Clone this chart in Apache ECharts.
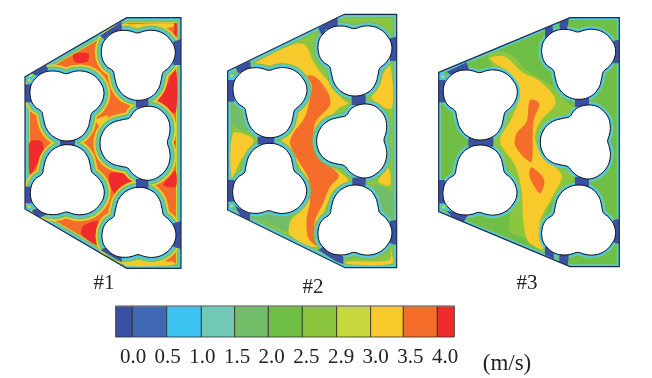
<!DOCTYPE html>
<html>
<head>
<meta charset="utf-8">
<style>html,body{margin:0;padding:0;background:#fff}#chart{width:652px;height:378px}</style>
<script src="https://cdn.jsdelivr.net/npm/echarts@6/dist/echarts.min.js"></script>
</head>
<body>
<div id="chart"></div>
<script>
// levels of the colour scale, low to high
var levelColors = ['#3a50a2', '#3f69b4', '#3cc3f1', '#72c9b6', '#72bd68', '#6fbe45', '#8cc63f', '#c7d93f', '#f7c92b', '#f56d2b', '#ef2b2b'];
var scaleTicks = ['0.0', '0.5', '1.0', '1.5', '2.0', '2.5', '2.9', '3.0', '3.5', '4.0'];
var scaleEdges = [47, 97, 200, 304, 404, 505, 607, 710, 812, 910, 1012, 1063];
var panelNames = ['#1', '#2', '#3'];

// outline of one hole around its centre
var holeOutline = [[-3,-96],[19,-102],[44,-104],[74,-95],[97,-74],[110,-47],[107,-17],[91,8],[74,23],[69,43],[61,70],[39,95],[1,106],[-36,96],[-61,70],[-71,38],[-76,18],[-96,3],[-109,-22],[-109,-57],[-96,-80],[-71,-99],[-41,-104],[-21,-101]];

// plate outlines
var hull1 = [[45,215],[350,38],[513,38],[513,790],[350,790],[45,612]];
var hull2 = [[38,198],[388,28],[545,28],[545,788],[390,788],[38,615]];
var hull3 = [[41,202],[435,38],[583,38],[583,785],[435,785],[41,620]];

// hole centres and how each is turned: 0 up, 1 flipped, 2 sideways
var holes1 = [[171,302,0],[172,525,1],[385,180,0],[376,415,2],[387,653,1]];
var holes2 = [[165,292,0],[164,521,1],[420,167,0],[411,408,2],[420,646,1]];
var holes3 = [[166,299,0],[165,526,1],[461,177,0],[452,411,2],[461,646,1]];

// inset of the wall bands: [distance from wall, level]
var wall1 = [[0,2],[4,3],[8,4],[12,7],[15,9]];
var wall2 = [[0,2],[4,3],[8,4],[12,6]];
var wall3 = [[0,2],[4,3],[7,5]];

// halo round the holes: [line width, level]
var halo1 = [[13,8],[11,7],[9,4],[6,3],[3.5,2]];
var halo2 = [[9,4],[6,3],[3.5,2]];
var halo3 = [[6,3],[3.5,2]];

// contour regions: [level, points]
var regions1 = [
    [10, [[190,148],[235,146],[232,170],[195,172]]],
    [10, [[60,410],[95,410],[100,440],[80,480],[60,510],[57,460]]],
    [10, [[497,190],[498,320],[470,320],[445,290],[470,240]]],
    [10, [[497,498],[497,545],[460,540],[480,515]]],
    [10, [[300,505],[340,505],[370,530],[320,570],[300,540]]],
    [10, [[265,650],[272,722],[215,690],[220,662]]],
    [8, [[258,345],[295,332],[272,365]]],
    [10, [[488,400],[494,400],[496,480],[490,480]]],
    [10, [[494,55],[500,55],[500,95],[494,95]]],
    [8, [[340,60],[490,55],[490,65],[400,75],[345,68]]],
    [8, [[345,770],[490,770],[490,780],[345,782]]]
];
var regions2 = [
    [4, [[105,630],[220,625],[225,680],[170,660]]],
    [4, [[50,300],[80,330],[100,380],[55,360]]],
    [4, [[480,540],[530,560],[535,640],[500,610]]],
    [8, [[110,180],[235,118],[270,120],[295,170],[315,200],[350,240],[385,285],[400,295],[370,310],[340,345],[300,370],[300,460],[340,480],[400,525],[370,545],[340,590],[320,640],[305,725],[225,690],[225,650],[250,620],[265,560],[260,500],[225,440],[200,410],[230,360],[270,270],[275,220],[200,190],[130,185]]],
    [9, [[278,212],[305,218],[340,265],[345,300],[300,355],[300,440],[340,480],[372,512],[345,545],[322,600],[300,645],[298,690],[305,722],[280,700],[275,640],[285,590],[280,520],[245,460],[225,415],[235,385],[270,335],[285,280],[290,240]]],
    [8, [[55,385],[115,405],[75,470],[50,520]]],
    [8, [[525,180],[530,310],[470,280],[500,215]]],
    [8, [[520,490],[525,540],[490,530]]],
    [8, [[395,770],[525,765],[525,730],[532,775],[395,778]]]
];
var regions3 = [
    [6, [[190,150],[245,142],[310,200],[370,235],[420,285],[445,315],[400,345],[350,365],[350,440],[400,480],[445,515],[420,550],[375,600],[355,650],[355,740],[300,700],[255,680],[255,630],[270,560],[240,470],[205,415],[240,350],[270,270],[260,220],[200,180]]],
    [8, [[195,158],[240,155],[290,200],[340,225],[385,270],[390,300],[345,350],[330,400],[350,450],[410,510],[385,570],[345,650],[355,730],[310,710],[295,650],[290,560],[270,480],[225,410],[260,340],[285,265],[250,200],[210,175]]],
    [9, [[315,285],[343,295],[325,350],[320,470],[300,460],[270,420],[275,385],[305,350]]],
    [9, [[320,487],[358,525],[345,565],[320,530],[313,505]]]
];

// stagnant patches at the throats and walls
var throats1 = [
    [[150,405],[195,405],[195,425],[150,425]], [[378,280],[415,280],[415,308],[378,308]], [[378,522],[415,522],[415,550],[378,550]],
    [[65,205],[108,180],[115,195],[80,212]], [[270,92],[335,50],[335,75],[295,90],[285,105]],
    [[490,110],[513,102],[513,180],[490,180]], [[490,655],[513,648],[513,732],[490,725]],
    [[272,735],[290,725],[335,750],[335,772]], [[65,618],[80,610],[112,628],[85,640]],
    [[45,238],[65,238],[65,292],[45,292]], [[45,545],[65,545],[65,595],[45,595]]
];
var throats2 = [
    [[128,395],[178,395],[178,418],[128,418]], [[410,270],[452,270],[452,300],[410,300]], [[412,518],[452,518],[452,542],[412,542]],
    [[62,188],[105,168],[108,188],[70,205]], [[310,70],[368,35],[368,62],[330,75],[322,95]],
    [[525,100],[545,95],[545,168],[525,168]], [[525,648],[545,645],[545,720],[525,715]],
    [[310,735],[330,722],[385,755],[385,777],[365,770]], [[60,603],[105,625],[105,648],[80,640]],
    [[38,225],[58,225],[58,290],[38,290]], [[38,525],[58,525],[58,590],[38,590]]
];
var throats3 = [
    [[130,398],[205,398],[205,425],[130,425]], [[450,278],[492,278],[492,306],[450,306]], [[450,516],[492,516],[492,546],[450,546]],
    [[65,200],[125,172],[133,198],[80,212]], [[360,70],[382,60],[388,100],[360,105]], [[403,47],[432,40],[425,78],[405,75]],
    [[565,108],[583,104],[583,175],[565,175]], [[565,645],[583,642],[583,718],[565,712]],
    [[360,725],[385,730],[387,762],[360,750]], [[403,745],[432,745],[428,783],[403,775]], [[65,618],[133,625],[115,652],[85,640]],
    [[41,225],[60,225],[60,292],[41,292]], [[41,525],[60,525],[60,595],[41,595]]
];

// little stagnation spots at the left corners
var spots1 = [[58,226],[58,605]];
var spots2 = [[50,212],[50,603]];
var spots3 = [[54,215],[56,606]];

var hulls = [hull1, hull2, hull3];
var holeSets = [holes1, holes2, holes3];
var walls = [wall1, wall2, wall3];
var halos = [halo1, halo2, halo3];
var regionSets = [regions1, regions2, regions3];
var throatSets = [throats1, throats2, throats3];
var spotSets = [spots1, spots2, spots3];
var panelLeft = [10, 215, 425];

function insetHull(hull, d) {
    var lines = hull.map(function (p, i) {
        var q = hull[(i + 1) % hull.length];
        var dx = q[0] - p[0], dy = q[1] - p[1], len = Math.sqrt(dx * dx + dy * dy);
        var nx = -dy / len, ny = dx / len;
        return [nx, ny, nx * p[0] + ny * p[1] + d];
    });
    return lines.map(function (a, i) {
        var b = lines[(i + lines.length - 1) % lines.length];
        var det = a[0] * b[1] - a[1] * b[0];
        return [(a[2] * b[1] - a[1] * b[2]) / det, (a[0] * b[2] - a[2] * b[0]) / det];
    });
}

function holePoints(h) {
    return holeOutline.map(function (p) {
        if (h[2] === 1) return [h[0] + p[0], h[1] - p[1]];
        if (h[2] === 2) return [h[0] - p[1], h[1] + p[0]];
        return [h[0] + p[0], h[1] + p[1]];
    });
}

// white ring round the plate, hides halo that runs past the wall
function outsideMask(hull) {
    var ring = [[0,0],[600,0],[600,870],[0,870],[0,0]];
    var back = hull.slice().reverse();
    return ring.concat(back, [back[0]]);
}

// one custom series draws a list of polygons in order
function polygons(panel, shapes) {
    return {
        type: 'custom',
        xAxisIndex: panel,
        yAxisIndex: panel,
        coordinateSystem: 'cartesian2d',
        clip: false,
        silent: true,
        animation: false,
        data: shapes.map(function (s, i) { return [i]; }),
        encode: { x: 0 },
        renderItem: function (params, api) {
            var s = shapes[params.dataIndex];
            return {
                type: 'polygon',
                shape: {
                    points: s.pts.map(function (p) { return api.coord(p); }),
                    smooth: s.smooth || 0
                },
                style: s.style
            };
        }
    };
}

var grids = [], xAxes = [], yAxes = [], series = [], texts = [];

panelLeft.forEach(function (left, k) {
    grids.push({ left: left, top: 5, width: 200, height: 290 });
    xAxes.push({ type: 'value', gridIndex: k, min: 0, max: 600, show: false });
    yAxes.push({ type: 'value', gridIndex: k, min: 0, max: 870, inverse: true, show: false });

    var shapes = [];
    walls[k].forEach(function (w) {
        shapes.push({ pts: insetHull(hulls[k], w[0]), style: { fill: levelColors[w[1]] } });
    });
    regionSets[k].forEach(function (r) {
        shapes.push({ pts: r[1], smooth: 0.3, style: { fill: levelColors[r[0]] } });
    });
    halos[k].forEach(function (h) {
        holeSets[k].forEach(function (c) {
            shapes.push({ pts: holePoints(c), smooth: 0.4, style: { fill: 'none', stroke: levelColors[h[1]], lineWidth: h[0], lineJoin: 'round' } });
        });
    });
    throatSets[k].forEach(function (t) {
        shapes.push({ pts: t, style: { fill: levelColors[0] } });
    });
    holeSets[k].forEach(function (c) {
        shapes.push({ pts: holePoints(c), smooth: 0.4, style: { fill: '#fff', stroke: '#111', lineWidth: 1 } });
    });
    shapes.push({ pts: outsideMask(hulls[k]), style: { fill: '#fff' } });
    shapes.push({ pts: hulls[k], style: { fill: 'none', stroke: '#1d2f4a', lineWidth: 1.2 } });
    series.push(polygons(k, shapes));

    series.push({
        type: 'scatter',
        xAxisIndex: k,
        yAxisIndex: k,
        data: spotSets[k],
        symbolSize: 5,
        silent: true,
        animation: false,
        itemStyle: { color: '#c7d93f', borderColor: '#3cc3f1', borderWidth: 1.5, opacity: 1 }
    });
});

// colour bar
grids.push({ left: 100, top: 306, width: 450, height: 31 });
xAxes.push({ type: 'value', gridIndex: 3, min: 0, max: 1350, show: false });
yAxes.push({ type: 'value', gridIndex: 3, min: 0, max: 1, show: false });
series.push({
    type: 'custom',
    xAxisIndex: 3,
    yAxisIndex: 3,
    clip: false,
    silent: true,
    animation: false,
    data: levelColors.map(function (c, i) { return [scaleEdges[i], scaleEdges[i + 1]]; }),
    encode: { x: [0, 1] },
    renderItem: function (params, api) {
        var a = api.coord([api.value(0), 1]), b = api.coord([api.value(1), 0]);
        return {
            type: 'group',
            children: [{
                type: 'rect',
                shape: { x: a[0], y: a[1], width: b[0] - a[0], height: b[1] - a[1] },
                style: { fill: levelColors[params.dataIndex], stroke: '#2b2b2b', lineWidth: 0.8 }
            }, {
                type: 'line',
                shape: { x1: a[0], y1: a[1], x2: b[0], y2: a[1] },
                style: { stroke: '#999', lineWidth: 1 }
            }]
        };
    }
});

// colour bar tick labels
grids.push({ left: 133, right: 207, top: 340, height: 1 });
xAxes.push({
    type: 'category',
    gridIndex: 4,
    data: scaleTicks,
    boundaryGap: false,
    axisLine: { show: false },
    axisTick: { show: false },
    axisLabel: { interval: 0, margin: 6, fontFamily: 'Liberation Serif', fontSize: 21, color: '#222', hideOverlap: false }
});
yAxes.push({ type: 'value', gridIndex: 4, show: false });

var nameX = [104, 313, 527], nameY = [283, 287, 283];
panelNames.forEach(function (n, i) {
    texts.push({ type: 'text', z: 100, x: nameX[i], y: nameY[i], style: { text: n, fontFamily: 'Liberation Serif', fontSize: 21, fill: '#222', textAlign: 'center', textVerticalAlign: 'middle' } });
});
texts.push({ type: 'text', z: 100, x: 507, y: 364, style: { text: '(m/s)', fontFamily: 'Liberation Serif', fontSize: 23, fill: '#222', textAlign: 'center', textVerticalAlign: 'middle' } });

var myChart = echarts.init(document.getElementById('chart'));
myChart.setOption({
    backgroundColor: '#fff',
    animation: false,
    grid: grids,
    xAxis: xAxes,
    yAxis: yAxes,
    graphic: texts,
    series: series
});
</script>
</body>
</html>
